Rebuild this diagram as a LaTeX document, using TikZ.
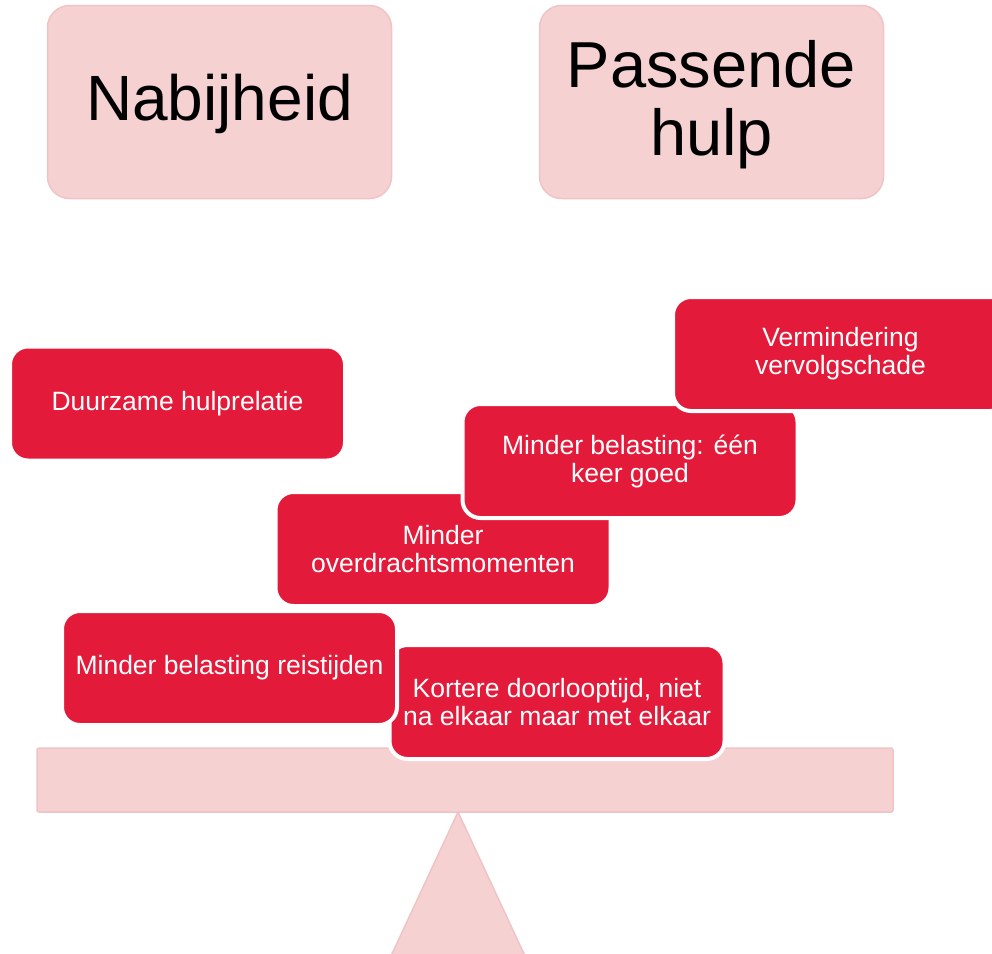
\documentclass[tikz,border=0pt]{standalone}
\usepackage{fontspec}
\setmainfont{Liberation Sans}
\definecolor{boxred}{RGB}{228,26,58}
\definecolor{pinkfill}{RGB}{245,209,210}
\definecolor{pinkline}{RGB}{240,196,198}
\begin{document}
\begin{tikzpicture}[x=1pt,y=-1pt,
  redbox/.style={rectangle, rounded corners=18pt, fill=boxred, draw=white, line width=4pt,
    minimum width=335pt, minimum height=114pt, inner sep=0pt, text=white, align=center,
    font=\fontsize{26.5}{28}\selectfont},
  pinkbox/.style={rectangle, rounded corners=22pt, fill=pinkfill, draw=pinkline, line width=1.5pt,
    minimum width=344pt, minimum height=193pt, inner sep=0pt},
  bigtext/.style={text=black, align=center, inner sep=0pt},
  pinkshape/.style={fill=pinkfill, draw=pinkline, line width=1.5pt}]
\useasboundingbox (0,0) rectangle (992,953);
\begin{scope}
\clip (0,0) rectangle (992,953);
% top boxes
\node[pinkbox] (nab) at (219.5,102) {};
\node[pinkbox] (pas) at (711.5,102) {};
\node[bigtext, font=\fontsize{64}{66}\selectfont] (nabt) at ([yshift=-2pt]nab.center) {Nabijheid};
\node[bigtext, font=\fontsize{65}{68}\selectfont] (past) at ([yshift=-2.5pt]pas.center) {Passende\\hulp};
% scale
\draw[pinkshape, rounded corners=2pt] (37,748) rectangle (893,812);
\draw[pinkshape] (458,812) -- (525,956) -- (391,956) -- cycle;
% red boxes
\node[redbox] (dur) at (177.5,403.5) {Duurzame hulprelatie};
\node[redbox] (kor) at (557,702) {Kortere doorlooptijd, niet\\na elkaar maar met elkaar};
\node[redbox] (rei) at (229.5,668) {Minder belasting reistijden};
\node[redbox] (ovd) at (443,549) {Minder\\overdrachtsmomenten};
\node[redbox] (een) at (630,461) {Minder belasting: één\\keer goed};
\node[redbox] (ver) at (840.5,354) {Vermindering\\vervolgschade};
\end{scope}
\end{tikzpicture}
\end{document}
